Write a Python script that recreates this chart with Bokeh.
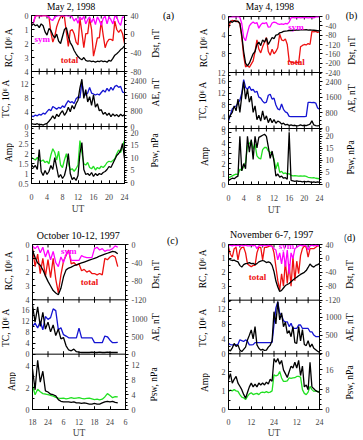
from math import pi
from bokeh.plotting import figure
from bokeh.models import (Range1d, LinearAxis, SingleIntervalTicker, FixedTicker, Label,
                          CustomJSTickFormatter, Span)
from bokeh.layouts import column, row
from bokeh.embed import file_html
from bokeh.resources import INLINE

FONT = "Liberation Serif"
C_SYM, C_TOT, C_BLK = "#ff00ff", "#ee1111", "#000000"
C_AE, C_PSW = "#1414d2", "#22e022"

# ---------------- data ----------------
# (a) May 2, 1998 : half-hourly, UT 0..24
t_a = [i * 0.5 for i in range(49)]
a_sym = [0.55,0.5,0.05,0.0,0.0,0.05,0.0,0.0,0.05,0.1,0.3,0.35,0.1,0.05,0.0,0.0,0.0,0.05,0.0,0.05,0.0,0.1,0.4,0.2,0.55,0.1,0.3,0.05,0.6,0.3,0.1,0.5,0.2,0.65,0.1,0.35,0.7,0.2,0.05,0.6,0.1,0.3,0.6,0.05,0.1,0.5,0.7,0.1,0.15]
a_total = [0.55,0.5,0.05,0.0,0.0,0.05,0.0,0.0,0.05,0.1,1.2,1.9,1.5,0.8,0.4,0.1,0.05,0.1,1.2,2.2,1.1,1.0,1.3,1.9,2.1,0.2,1.2,2.3,1.3,1.3,0.2,1.0,2.9,2.3,1.6,1.6,0.4,1.4,2.3,1.9,1.7,1.7,1.8,0.4,1.0,1.2,1.0,1.3,2.0]
a_dst = [18,22,18,20,14,22,18,5,-2,12,8,-2,-8,0,-15,-20,-5,10,14,-5,-18,-25,-35,-42,-48,-52,-55,-50,-56,-58,-57,-59,-58,-60,-58,-59,-57,-59,-58,-60,-56,-58,-52,-45,-42,-38,-33,-30,-25]
a_tc = [0.8,0.7,0.6,0.8,0.5,0.6,0.4,0.7,0.9,1.5,2.2,3.0,2.2,3.5,2.8,3.8,4.5,3.2,4.0,5.5,4.2,6.0,5.0,6.5,7.5,11.0,13.5,8.0,10.5,7.0,8.5,6.0,9.0,5.5,6.5,4.5,4.8,3.5,4.0,3.2,3.8,2.8,3.6,3.0,3.4,2.8,3.5,3.0,3.4]
a_ae = [560,520,600,560,640,600,700,650,780,900,820,1050,980,900,1000,950,1080,1000,1200,1350,1250,1300,1200,1450,1550,1500,2300,1700,1650,1750,2050,1750,1700,1650,1700,1650,1780,1900,1800,2000,1850,2050,1900,2100,2150,2050,2100,1800,1780]
a_amp = [1.45,1.3,1.4,1.2,2.2,1.1,0.9,1.15,0.95,1.1,1.4,1.2,1.8,1.3,0.8,0.95,0.75,0.9,1.3,2.0,1.0,0.7,0.8,0.65,0.9,2.0,2.55,1.2,0.95,1.0,0.9,1.05,0.85,1.0,0.9,1.0,0.95,1.05,1.1,1.2,1.35,1.3,1.5,1.7,1.9,2.0,2.15,2.5,1.75]
a_psw = [10.0,9.5,9.0,10.0,9.0,8.5,9.0,8.0,8.5,7.5,11.0,13.5,12.0,9.0,12.5,7.0,6.0,9.0,11.5,8.0,5.0,5.5,4.5,5.5,7.0,16.8,12.0,7.5,7.0,8.0,6.0,5.5,6.5,5.0,6.0,5.5,6.5,6.0,6.8,8.0,8.5,8.2,8.8,9.5,11.5,13.0,12.0,14.5,16.8]

# (b) May 4, 1998 : half-hourly, UT 0..24
t_b = [i * 0.5 for i in range(49)]
b_sym = [0.2,0.1,0.0,0.05,0.1,0.0,0.2,1.5,4.5,5.2,3.5,2.0,1.5,1.2,1.5,1.3,2.5,1.8,1.4,1.5,1.3,2.3,2.2,1.4,1.2,1.3,1.6,1.7,1.6,1.7,1.5,1.6,1.2,0.3,0.2,0.3,0.25,0.2,0.3,0.25,0.2,0.25,0.3,0.25,0.2,0.3,0.1,0.05,0.1]
b_total = [2.5,1.2,0.8,1.0,0.9,1.2,1.5,4.5,8.5,10.8,10.5,10.9,10.2,9.5,7.5,5.0,7.0,7.8,6.5,5.5,4.5,7.5,8.3,7.0,8.0,7.5,6.7,3.8,5.0,5.2,4.8,6.0,9.5,9.8,9.9,10.0,9.8,10.0,6.5,6.2,6.0,6.1,5.8,6.0,3.2,3.3,3.2,3.4,3.3]
b_dst = [-30,-20,-25,-18,-22,-20,-30,-80,-150,-200,-212,-200,-180,-160,-150,-120,-110,-125,-100,-110,-92,-120,-105,-90,-95,-80,-78,-70,-68,-64,-63,-62,-60,-60,-58,-59,-57,-58,-57,-56,-57,-56,-58,-57,-58,-59,-60,-61,-62]
b_tc = [3.2,4.5,5.5,7.7,6.0,10.0,5.5,11.0,16.0,10.0,13.4,9.0,11.0,5.5,7.7,3.0,4.5,2.5,6.0,3.0,4.3,2.0,3.5,2.0,3.0,1.8,2.5,2.2,1.5,1.8,1.2,1.4,1.0,1.2,1.0,1.1,0.9,1.0,1.2,1.0,1.1,1.0,1.2,1.5,2.6,1.2,1.0,0.9,1.0]
b_ae = [390,700,1000,1100,1150,1300,1450,1800,2500,2100,2000,2150,1950,2000,1850,1900,1600,1550,1400,1300,1350,1700,1750,1500,1550,1200,1000,950,1250,980,850,800,620,610,610,610,610,610,610,610,610,620,1330,1330,1320,1330,1300,1050,990]
b_amp = [0.35,0.5,0.6,0.55,0.7,0.8,4.6,1.3,2.0,1.5,4.6,3.1,4.3,2.4,4.6,3.5,4.5,4.6,4.7,4.8,4.6,3.6,2.5,3.2,2.2,0.8,1.0,0.7,0.8,0.6,0.65,0.5,5.0,0.4,0.35,0.3,0.35,0.3,0.3,0.25,0.3,0.25,0.3,0.25,0.2,0.25,0.2,0.25,0.2]
b_psw = [2.9,3.2,3.6,4.0,4.3,4.0,6.4,6.0,7.5,9.2,16.1,17.0,18.2,14.7,16.8,11.9,11.0,10.6,14.5,15.4,15.4,14.0,13.3,13.0,10.5,6.4,9.2,5.0,5.5,4.5,4.8,4.3,4.5,3.8,3.6,3.7,3.6,3.5,3.6,3.5,3.6,3.4,3.0,2.9,2.8,2.9,2.6,2.5,2.4]

# (c) October 10-12, 1997 : hourly, hours from 00 UT Oct 10
t_c = [18 + i for i in range(34)]
c_sym = [0.1,0.3,0.1,0.6,0.2,0.9,0.4,1.1,0.5,1.3,1.6,0.9,1.3,0.7,0.5,1.15,1.15,1.15,1.15,0.8,0.9,0.95,0.95,0.95,0.3,0.2,0.4,0.3,0.5,0.4,0.4,0.3,0.1,0.2]
c_total = [0.2,1.6,0.7,2.1,1.0,2.3,1.1,2.4,1.0,2.5,3.5,2.2,1.2,0.8,0.4,1.4,1.3,1.5,1.4,1.9,1.8,2.0,1.9,2.1,2.1,2.2,2.1,2.2,1.0,1.1,0.9,0.8,0.9,1.6]
c_dst = [-13,-28,-40,-45,-55,-68,-80,-90,-100,-105,-109,-95,-70,-55,-51,-49,-46,-44,-42,-40,-38,-36,-34,-32,-30,-28,-25,-23,-21,-19,-17,-15,-16,-20]
c_tc = [17.6,11.5,17.0,10.0,15.0,9.0,11.5,8.0,10.5,6.7,9.0,5.5,6.0,3.0,1.5,1.2,1.8,0.9,0.7,0.6,0.6,0.6,0.6,0.7,0.6,0.6,0.7,0.6,0.6,0.7,0.6,0.6,0.6,0.6]
c_ae = [800,890,750,940,700,1080,1000,1050,1300,1250,700,760,560,520,470,470,470,470,750,470,470,470,470,470,330,330,330,330,520,500,400,330,330,340]
c_amp = [3.7,1.8,4.5,2.5,3.5,1.7,1.6,1.4,1.35,1.25,0.9,0.75,0.7,0.7,0.7,0.65,0.7,0.6,0.6,0.55,0.6,0.55,0.5,0.5,0.55,0.5,0.5,0.6,0.7,0.75,0.7,0.75,0.65,0.6]
c_psw = [6.5,4.0,5.5,4.8,4.3,4.2,4.0,3.8,3.6,3.3,3.1,3.0,3.1,2.9,3.0,3.2,3.0,3.1,3.2,3.0,2.9,3.0,3.1,2.9,2.7,2.8,2.6,2.8,3.4,4.3,3.8,3.2,3.5,3.4]

# (d) November 6-7, 1997 : hourly, hours from 00 UT Nov 6
t_d = [i for i in range(49)]
d_sym = [0.1,0.05,0.1,0.05,0.1,0.05,0.1,0.05,0.1,0.05,0.1,0.1,0.05,0.1,0.05,0.3,0.1,0.05,0.1,0.05,0.1,0.05,0.1,0.15,0.3,0.4,1.1,0.6,1.4,0.5,1.6,0.4,2.1,0.6,1.0,0.3,0.2,0.1,0.05,0.1,0.05,0.1,0.4,0.1,0.05,0.1,0.05,0.1,0.05]
d_total = [0.2,0.7,0.9,0.3,0.2,1.1,0.4,0.2,0.2,0.6,1.4,1.5,1.6,1.5,1.5,0.6,0.2,0.2,1.1,0.2,0.2,0.15,0.1,0.1,0.6,1.6,2.6,3.3,2.1,3.0,1.2,2.8,1.4,3.0,0.9,2.6,1.2,2.1,0.8,0.3,0.1,0.2,0.9,0.3,0.3,0.3,0.2,0.1,0.1]
d_dst = [-1,-4,-6,-5,-8,-10,-20,-25,-18,-15,-14,-12,-15,-14,-18,-15,-10,-8,-6,-8,-12,-10,-12,-20,-38,-65,-82,-95,-92,-85,-78,-75,-72,-67,-62,-58,-54,-50,-46,-43,-40,-35,-26,-16,-22,-25,-20,-18,-15]
d_tc = [1.1,0.8,1.6,2.8,2.0,2.4,1.0,0.6,1.2,1.8,3.7,5.0,6.4,4.0,7.3,2.4,1.5,1.0,1.2,0.9,1.0,1.8,2.3,3.5,11.3,8.0,14.0,9.1,11.0,7.3,8.5,5.5,6.2,4.6,7.3,3.0,2.8,7.3,3.5,6.5,2.5,2.2,3.5,1.8,2.6,1.5,1.1,0.7,0.4]
d_ae = [290,250,245,250,245,260,380,360,335,380,340,245,245,250,305,305,305,305,305,305,305,305,305,310,800,1250,1415,1100,1050,900,870,870,740,830,690,690,690,785,785,690,690,690,690,600,600,510,470,470,470]
d_amp = [1.58,1.9,1.4,1.6,1.75,1.4,1.23,1.05,0.8,0.6,0.9,1.2,1.4,1.2,1.35,1.2,1.4,1.3,1.4,1.3,1.45,1.35,1.6,1.5,2.7,2.5,2.7,2.4,2.6,2.1,1.9,1.7,2.0,2.3,2.2,2.5,2.2,2.6,1.8,2.3,1.2,1.3,1.05,2.5,1.2,1.1,1.0,0.95,0.9]
d_psw = [7.3,7.8,7.5,8.0,7.5,7.3,6.0,5.0,4.7,4.0,5.3,6.3,6.7,6.0,6.3,6.5,6.0,6.8,7.0,6.8,7.2,6.8,7.0,7.5,14.0,13.5,13.8,15.3,12.7,11.3,11.3,11.5,12.7,12.5,12.7,12.8,13.3,13.3,13.0,8.0,6.5,6.0,7.0,9.3,8.0,7.3,7.5,7.2,7.3]

# axis limits (value at bottom, value at top) and tick values of each sub-panel
# order per panel: RC, Dst, TC, AE, Amp, Psw
lim_a = [(4, 0), (-80, 40), (0, 15.7), (0, 2880), (0.5, 3.35), (-0.4, 22.4)]
lim_b = [(12, 0), (-240, 0), (0, 19.05), (0, 2860), (0, 5.35), (0, 23.3)]
lim_c = [(4, 0), (-120, 0), (0, 19.5), (0, 1560), (0, 5.06), (0, 15)]
lim_d = [(4, 0), (-120, 40), (0, 14.4), (0, 1460), (0, 2.95), (0, 22.4)]
tk_a = [[0, 1, 2, 3, 4], [-80, -40, 0, 40], [0, 4, 8, 12], [0, 800, 1600, 2400], [0.5, 1, 1.5, 2, 2.5, 3], [0, 5, 10, 15, 20]]
tk_b = [[0, 4, 8, 12], [-240, -200, -160, -120, -80, -40, 0], [0, 4, 8, 12, 16], [0, 800, 1600, 2400], [0, 1, 2, 3, 4, 5], [0, 5, 10, 15, 20]]
tk_c = [[0, 1, 2, 3, 4], [-120, -80, -40, 0], [0, 4, 8, 12, 16], [0, 500, 1000], [0, 2, 4], [0, 4, 8, 12]]
tk_d = [[0, 1, 2, 3, 4], [-120, -80, -40, 0, 40], [0, 4, 8, 12], [0, 500, 1000], [0, 1, 2], [0, 8, 16]]
minor_step_a = [0.5, 10, 2, 200, 0.25, 1]
minor_step_b = [2, 20, 2, 200, 0.5, 1]
minor_step_c = [0.5, 10, 2, 100, 1, 1]
minor_step_d = [0.5, 10, 2, 100, 0.5, 2]

titles = ["May 2, 1998", "May 4, 1998", "October 10-12, 1997", "November 6-7, 1997"]
tags = ["(a)", "(b)", "(c)", "(d)"]
RCL = "RC, 10\u2076 A"
TCL = "TC, 10\u2076 A"

# ---------------- helpers ----------------
def vfmt(v):
    return str(int(round(v))) if abs(v - round(v)) < 1e-9 else ("%g" % v)


def minor_vals(lo, hi, step, majors):
    a, b = min(lo, hi), max(lo, hi)
    out, k = [], int(a // step) - 1
    while k * step <= b + 1e-9:
        v = k * step
        if a - 1e-9 <= v <= b + 1e-9 and all(abs(v - m) > 1e-9 for m in majors):
            out.append(v)
        k += 1
    return out


def strip(w, h, x0, y0):
    p = figure(width=w, height=h, x_range=Range1d(x0, x0 + w), y_range=Range1d(y0 + h, y0),
               x_axis_type=None, y_axis_type=None, output_backend="svg", toolbar_location=None,
               min_border=0, min_border_left=0, min_border_right=0, min_border_top=0,
               min_border_bottom=0, outline_line_color=None)
    p.background_fill_color = "white"
    p.border_fill_color = "white"
    return p


def text(p, x, y, s, size="9.5px", angle=0.0, color="black", bold=False, yname="default"):
    p.add_layout(Label(x=x, y=y, text=s, text_font=FONT, text_font_size=size, angle=angle,
                       text_align="center", text_baseline="middle", text_color=color,
                       text_font_style="bold" if bold else "normal", y_range_name=yname))


def yaxis(pos, labs, minor, tin, tout, standoff):
    ax = LinearAxis(ticker=FixedTicker(ticks=pos, minor_ticks=minor),
                    formatter=CustomJSTickFormatter(args=dict(pos=pos, lab=labs), code="""
for (let i = 0; i < pos.length; i++) { if (Math.abs(pos[i] - tick) < 1e-3) { return lab[i]; } }
return '';
"""))
    ax.axis_line_color = "black"
    ax.major_tick_line_color = "black"
    ax.minor_tick_line_color = "black"
    ax.major_tick_in, ax.major_tick_out = tin, tout
    ax.minor_tick_in, ax.minor_tick_out = (2 if tin else 0), (2 if tout else 0)
    ax.major_label_text_font = FONT
    ax.major_label_text_font_size = "8px"
    ax.major_label_standoff = standoff
    return ax


hour_fmt = CustomJSTickFormatter(code="""
const h = ((tick % 24) + 24) % 24;
if (h == 0 && tick > 0) { return '24'; }
return String(Math.round(h));
""")


def main_fig(w, h, bl, br, bt, bb, H, bounds, xr, xint, xminor, fmt, lst, ut_stand,
             t, series, lims, tks, msteps, symtot):
    p = figure(width=w, height=h, x_range=Range1d(*xr), y_range=Range1d(0, H),
               x_axis_type=None, y_axis_type=None, output_backend="svg", toolbar_location=None,
               min_border_left=bl, min_border_right=br, min_border_top=bt, min_border_bottom=bb)
    p.outline_line_color = "black"
    p.background_fill_color = "white"
    p.border_fill_color = "white"
    # sub-panel vertical extents (frame units): top, middle, bottom
    y0s = [bounds[1], bounds[0], 0]
    y1s = [H, bounds[1], bounds[0]]
    lpos, llab, lmin, rpos, rlab, rmin = [], [], [], [], [], []
    ranges = {}
    for i in range(6):
        sub = i // 2
        lo, hi = lims[i]
        y0, y1 = y0s[sub], y1s[sub]
        k = (hi - lo) / (y1 - y0)
        ranges[i] = Range1d(start=lo - y0 * k, end=lo + (H - y0) * k)
        maj = [v for v in tks[i] if min(lo, hi) - 1e-9 <= v <= max(lo, hi) + 1e-9]
        mins = minor_vals(lo, hi, msteps[i], maj)
        P = [y0 + (v - lo) / k for v in maj]
        M = [y0 + (v - lo) / k for v in mins]
        if i % 2 == 0:
            lpos += P; llab += [vfmt(v) for v in maj]; lmin += M
        else:
            rpos += P; rlab += [vfmt(v) for v in maj]; rmin += M
    p.extra_y_ranges = {("s%d" % i): ranges[i] for i in range(6)}
    p.add_layout(yaxis(lpos, llab, lmin, 3, 0, 3), "left")
    p.add_layout(yaxis(rpos, rlab, rmin, 0, 3, 3), "right")
    # bottom x axis
    xa = LinearAxis(ticker=SingleIntervalTicker(interval=xint, num_minor_ticks=xint // xminor))
    xa.axis_line_color = "black"
    xa.major_tick_line_color = "black"
    xa.minor_tick_line_color = "black"
    xa.major_tick_in, xa.major_tick_out = 3, 0
    xa.minor_tick_in, xa.minor_tick_out = 3, 0
    xa.major_label_text_font = FONT
    xa.major_label_text_font_size = "8px"
    xa.major_label_standoff = lst
    xa.axis_label = "UT"
    xa.axis_label_text_font = FONT
    xa.axis_label_text_font_style = "normal"
    xa.axis_label_text_font_size = "9.5px"
    xa.axis_label_standoff = ut_stand
    if fmt is not None:
        xa.formatter = fmt
    p.add_layout(xa, "below")
    # sub-panel separators with inward ticks on both sides, and top-edge ticks
    xt = []
    v = xr[0] + xminor
    while v < xr[1] - 1e-9:
        xt.append(v)
        v += xminor
    for b in bounds:
        p.add_layout(Span(location=b, dimension="width", line_color="black", line_width=1))
        p.segment(x0=xt, y0=[b - 3] * len(xt), x1=xt, y1=[b + 3] * len(xt), line_color="black", line_width=1)
    p.segment(x0=xt, y0=[H - 3] * len(xt), x1=xt, y1=[H] * len(xt), line_color="black", line_width=1)
    # data
    sym, tot, dst, tc, ae, amp, psw = series

    def ln(y, name, color):
        n = min(len(t), len(y))
        p.line(t[:n], y[:n], y_range_name=name, line_color=color, line_width=1.3)
    ln(tot, "s0", C_TOT)
    ln(sym, "s0", C_SYM)
    ln(dst, "s1", C_BLK)
    ln(ae, "s3", C_AE)
    ln(tc, "s2", C_BLK)
    ln(psw, "s5", C_PSW)
    ln(amp, "s4", C_BLK)
    (sx, sy), (tx, ty) = symtot
    text(p, sx, sy, "sym", size="9px", color=C_SYM, bold=True, yname="s0")
    text(p, tx, ty, "total", size="9px", color=C_TOT, bold=True, yname="s0")
    return p


def build(c):
    left = strip(c["lw"], c["rh"], c["x0"], c["y0"])
    for s, (x, y) in zip([RCL, TCL, "Amp"], c["lpos"]):
        text(left, x, y, s, angle=pi / 2)
    mw = c["rsx"] - c["x0"] - c["lw"]
    head = strip(mw, c["hh"], c["x0"] + c["lw"], c["y0"])
    text(head, c["title_xy"][0], c["title_xy"][1], c["title"], size=c["tsize"])
    right = strip(c["x0"] + c["cw"] - c["rsx"], c["rh"], c["rsx"], c["y0"])
    for s, (x, y) in zip(["Dst, nT", "AE, nT", "Psw, nPa"], c["rpos"]):
        text(right, x, y, s, angle=pi / 2)
    text(right, c["tag_xy"][0], c["tag_xy"][1], c["tag"], size="10px")
    main = main_fig(mw, c["rh"] - c["hh"], c["bl"], c["br"], c["bt"], c["bb"], c["H"], c["bounds"],
                    c["xr"], c["xint"], c["xminor"], c["fmt"], c["lst"], c["uts"],
                    c["t"], c["series"], c["lims"], c["tks"], c["ms"], c["symtot"])
    return row(left, column(head, main), right)


colA = build(dict(x0=0, y0=0, cw=181, rh=225, lw=14, rsx=150, hh=12, bl=17, br=26, bt=3, bb=42,
                  H=168, bounds=[57, 112], xr=(0, 24), xint=4, xminor=2, fmt=None, lst=10, uts=1,
                  t=t_a, series=(a_sym, a_total, a_dst, a_tc, a_ae, a_amp, a_psw),
                  lims=lim_a, tks=tk_a, ms=minor_step_a, symtot=((2.8, 1.7), (9.8, 3.2)),
                  lpos=[(8.5, 47), (5.5, 98), (8, 152)], rpos=[(155.5, 43), (155.5, 92), (154, 150)],
                  title=titles[0], title_xy=(72, 6), tsize="9.5px", tag=tags[0], tag_xy=(168, 15)))

colB = build(dict(x0=181, y0=0, cw=182, rh=225, lw=29, rsx=344, hh=13, bl=18, br=23, bt=3, bb=41,
                  H=168, bounds=[56, 112], xr=(0, 24), xint=4, xminor=2, fmt=None, lst=10, uts=1,
                  t=t_b, series=(b_sym, b_total, b_dst, b_tc, b_ae, b_amp, b_psw),
                  lims=lim_b, tks=tk_b, ms=minor_step_b, symtot=((17.8, 2.2), (17.8, 9.7)),
                  lpos=[(203, 47), (202, 100), (204, 156)], rpos=[(351, 50), (351, 98), (350, 157)],
                  title=titles[1], title_xy=(271, 6.5), tsize="9.5px", tag=tags[1], tag_xy=(351, 15)))

colC = build(dict(x0=0, y0=225, cw=181, rh=215, lw=16, rsx=150, hh=15, bl=16, br=25, bt=4, bb=29,
                  H=167, bounds=[56, 111], xr=(18, 54), xint=6, xminor=6, fmt=hour_fmt, lst=9, uts=0,
                  t=t_c, series=(c_sym, c_total, c_dst, c_tc, c_ae, c_amp, c_psw),
                  lims=lim_c, tks=tk_c, ms=minor_step_c, symtot=((32, 0.5), (40.1, 2.7)),
                  lpos=[(8, 270), (5.5, 327), (11, 381)], rpos=[(155, 274), (155, 327), (153, 384)],
                  title=titles[2], title_xy=(82, 234.5), tsize="10px", tag=tags[2], tag_xy=(172, 240)))

colD = build(dict(x0=181, y0=225, cw=182, rh=215, lw=29, rsx=344, hh=15, bl=18, br=22, bt=4, bb=30,
                  H=166, bounds=[56, 110], xr=(0, 48), xint=12, xminor=6, fmt=hour_fmt, lst=9, uts=0,
                  t=t_d, series=(d_sym, d_total, d_dst, d_tc, d_ae, d_amp, d_psw),
                  lims=lim_d, tks=tk_d, ms=minor_step_d, symtot=((30.6, 0.12), (15.3, 2.36)),
                  lpos=[(202, 268), (202, 327), (204, 382)], rpos=[(349, 274), (349, 327), (349, 382)],
                  title=titles[3], title_xy=(273.5, 233.5), tsize="10px", tag=tags[3], tag_xy=(349, 237)))

page = column(row(colA, colB), row(colC, colD))
open("out.html", "w").write(file_html(page, INLINE, title="Ring current panels"))
